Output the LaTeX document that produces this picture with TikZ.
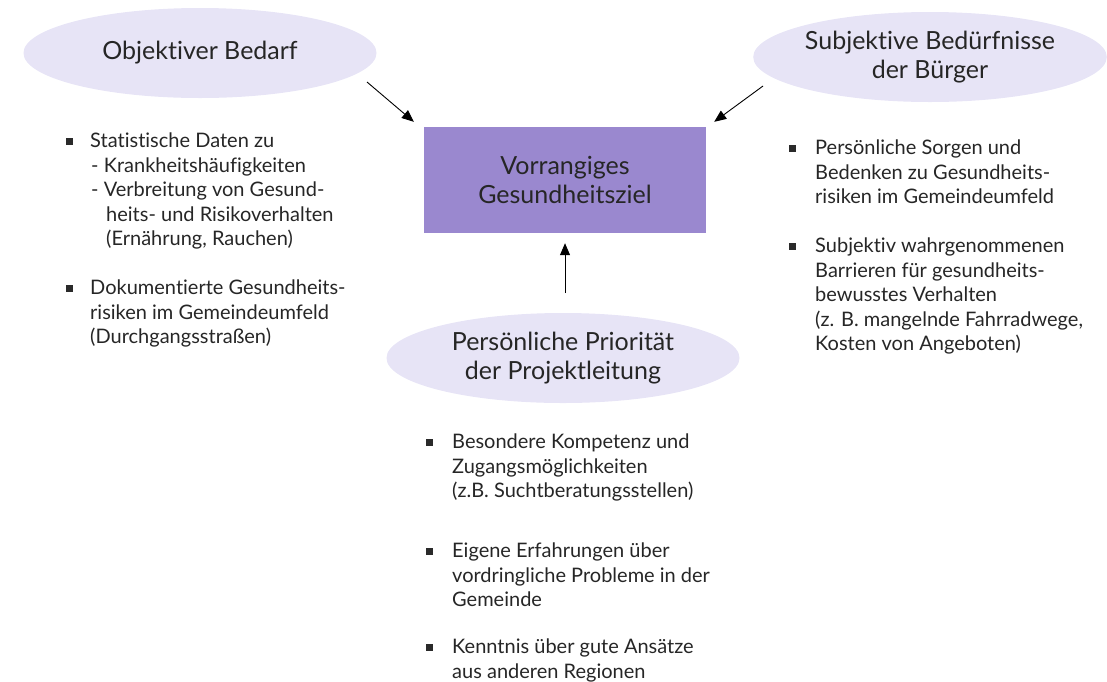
\documentclass[tikz,border=0pt]{standalone}
\usepackage{fontspec}
\setmainfont{Lato}[Ligatures=NoCommon]
\usetikzlibrary{shapes.geometric,positioning,arrows.meta}
\definecolor{lavender}{HTML}{E7E4F6}
\definecolor{goalpurple}{HTML}{9A88CF}
\definecolor{bulletgray}{HTML}{2A2A2A}
\newcommand{\titlefont}{\fontsize{25}{28.5}\selectfont}
\newcommand{\itemfont}{\fontsize{20}{24.5}\selectfont}
\tikzset{
  topic/.style={ellipse, fill=lavender, minimum width=353, minimum height=90, inner sep=0, font=\titlefont, align=center, text=black!85},
  goal/.style={rectangle, fill=goalpurple, minimum width=282, minimum height=106, font=\titlefont, align=center, text=black!85},
  itemtext/.style={anchor=north west, inner sep=0, font=\itemfont, align=left, text=black!85},
  sq/.style={rectangle, fill=bulletgray, minimum width=7, minimum height=7, inner sep=0, outer sep=0},
  arr/.style={-{Triangle[length=12,width=10]}, line width=0.9}
}
\begin{document}
\begin{tikzpicture}[x=1pt,y=-1pt]
  \useasboundingbox (0,0) rectangle (1107,681);

  % Influences
  \node[topic] (bedarf) at (200,53) {Objektiver Bedarf};
  \node[topic] (buerger) at (930,57) {Subjektive Bedürfnisse\\der Bürger};
  \node[topic] (leitung) at (563,358) {Persönliche Priorität\\der Projektleitung};

  % Goal
  \node[goal] (ziel) at (565,180) {Vorrangiges\\Gesundheitsziel};

  % Arrows
  \coordinate (bedarfend) at (367,82);
  \coordinate (buergerend) at (763,86);
  \coordinate (leitungend) at (565,293);
  \draw[arr] (bedarfend) -- ([xshift=-10,yshift=5]ziel.north west);
  \draw[arr] (buergerend) -- ([xshift=8,yshift=5]ziel.north east);
  \draw[arr] (leitungend) -- ([yshift=-10]ziel.south);

  % Objective need
  \node[itemtext] (obj1) at (90,133) {Statistische Daten zu\\
    \hspace{1pt}- Krankheitshäufigkeiten\\
    \hspace{1pt}- Verbreitung von Gesund-\\
    \hspace{16pt}heits- und Risikoverhalten\\
    \hspace{16pt}(Ernährung, Rauchen)};
  \node[itemtext] (obj2) at (90,280) {Dokumentierte Gesundheits-\\risiken im Gemeindeumfeld\\(Durchgangsstraßen)};
  \node[sq] at (69,141) {};
  \node[sq] at (69,288) {};

  % Subjective needs
  \node[itemtext] (sub1) at (815,140) {Persönliche Sorgen und\\Bedenken zu Gesundheits-\\risiken im Gemeindeumfeld};
  \node[itemtext] (sub2) at (815,238) {Subjektiv wahrgenommenen\\Barrieren für gesundheits-\\bewusstes Verhalten\\(z. B. mangelnde Fahrradwege,\\Kosten von Angeboten)};
  \node[sq] at (792,148) {};
  \node[sq] at (792,246) {};

  % Project management
  \node[itemtext] (pro1) at (452,434) {Besondere Kompetenz und\\Zugangsmöglichkeiten\\(z.B. Suchtberatungsstellen)};
  \node[itemtext] (pro2) at (452,543) {Eigene Erfahrungen über\\vordringliche Probleme in der\\Gemeinde};
  \node[itemtext] (pro3) at (452,639) {Kenntnis über gute Ansätze\\aus anderen Regionen};
  \node[sq] at (429,442) {};
  \node[sq] at (429,551) {};
  \node[sq] at (429,647) {};
\end{tikzpicture}
\end{document}
